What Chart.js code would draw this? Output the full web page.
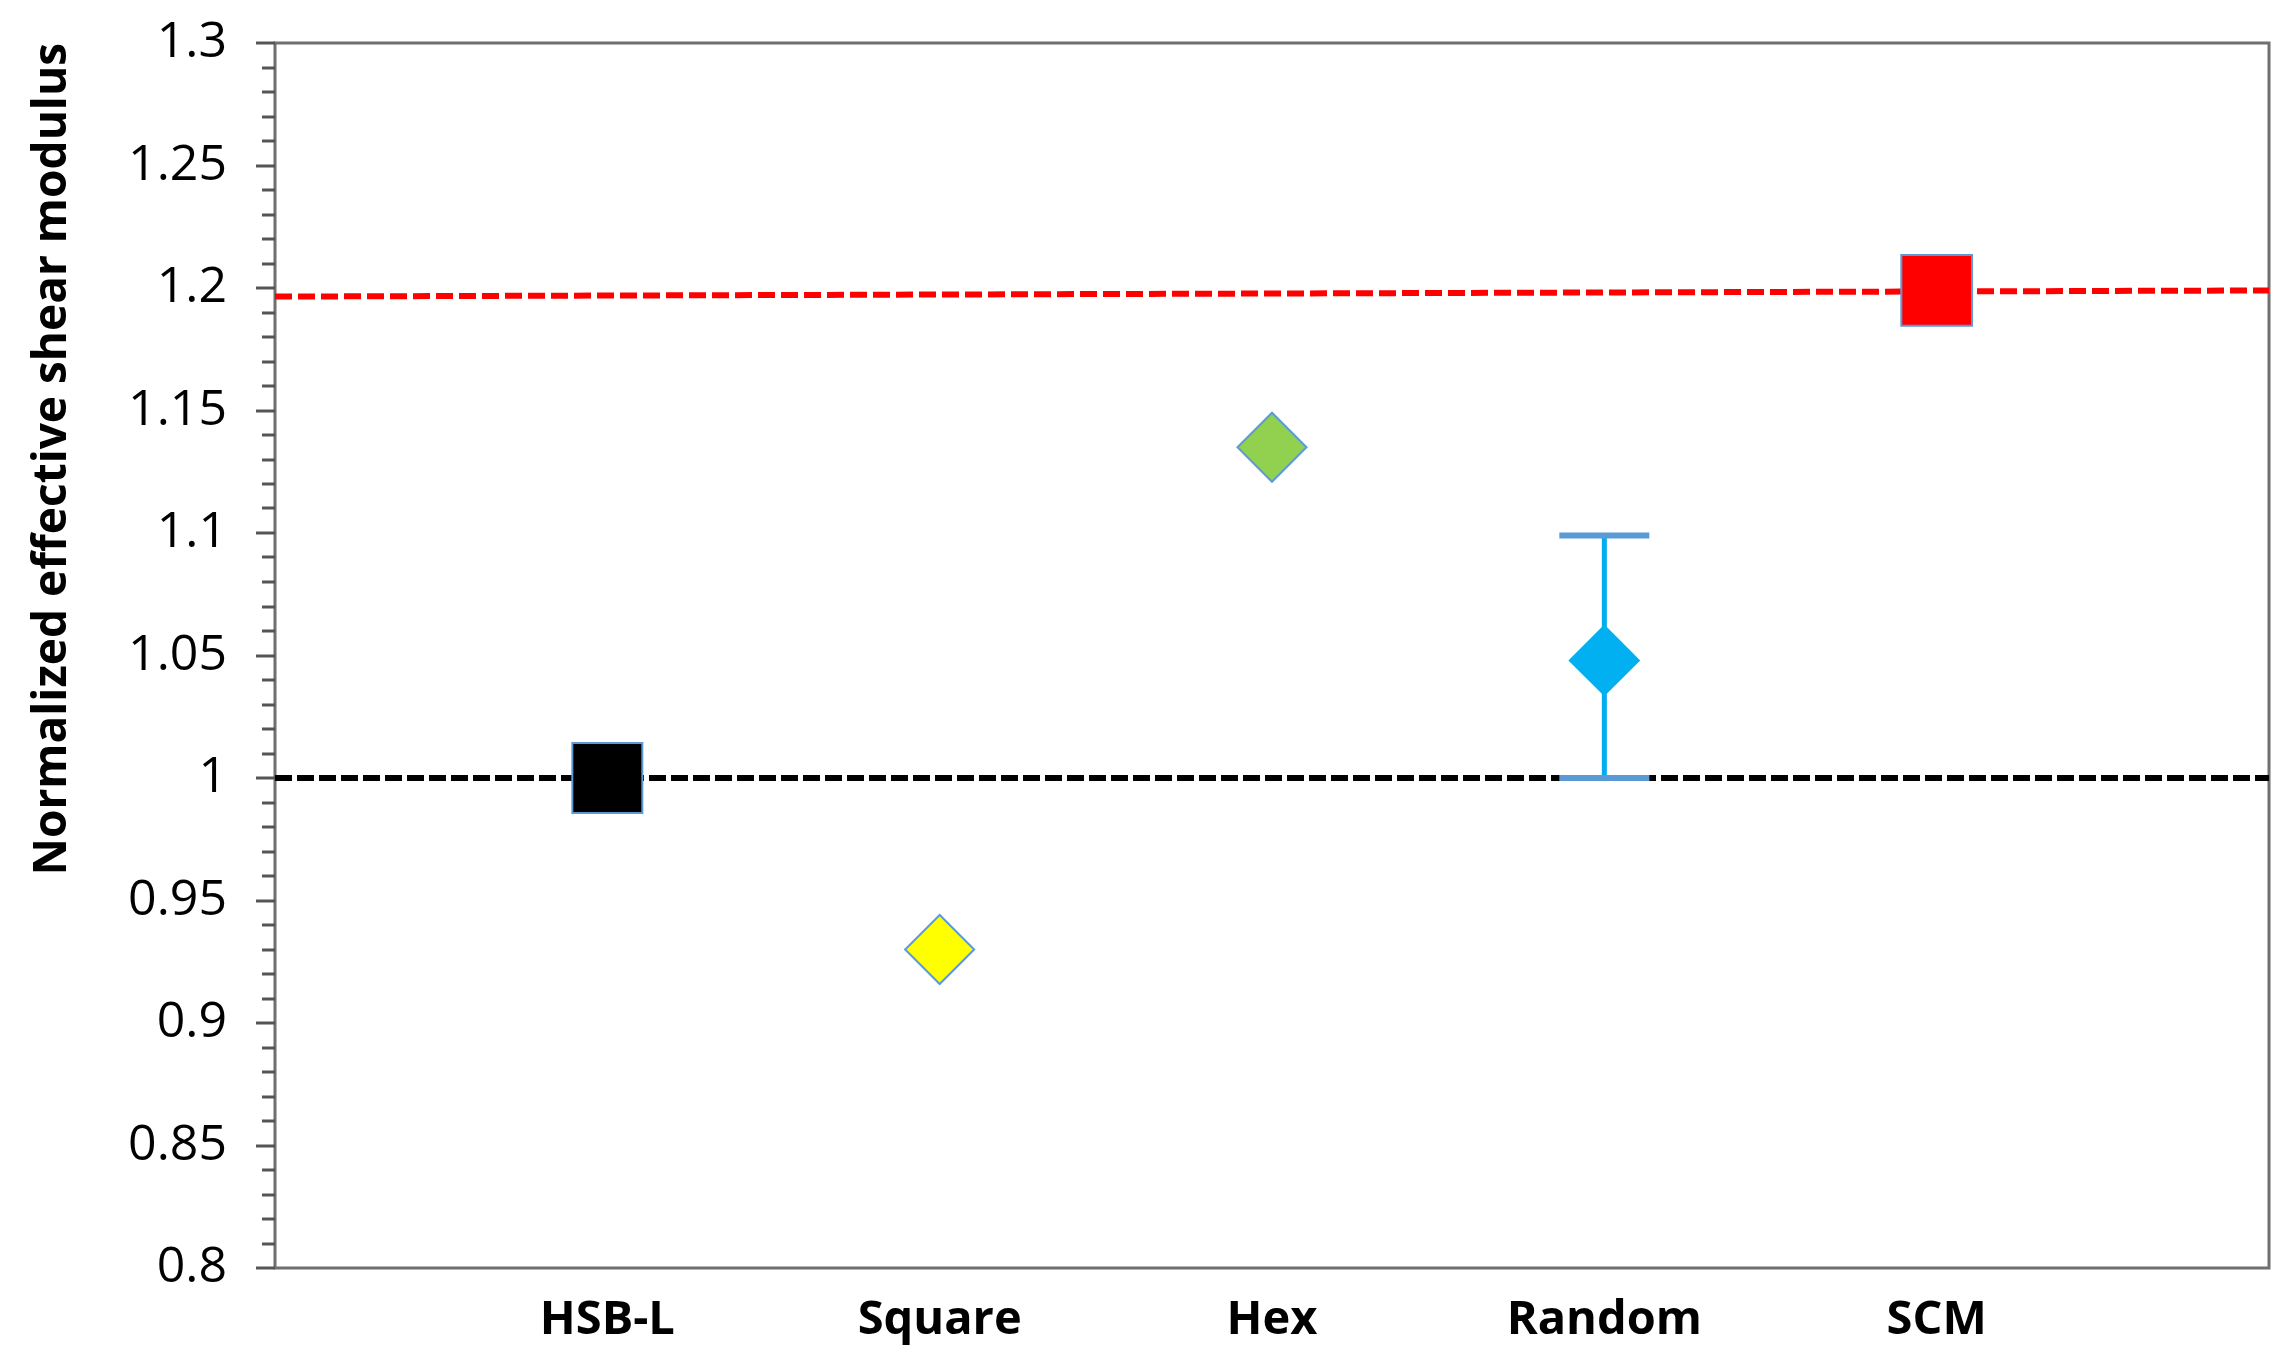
<!DOCTYPE html>
<html>
<head>
  <meta charset="utf-8">
  <title>Normalized effective shear modulus</title>
  <style>
    html, body { margin: 0; padding: 0; background: #fff; }
    #wrap { width: 2282px; height: 1361px; position: relative; }
  </style>
  <script src="https://cdn.jsdelivr.net/npm/chart.js@4.4.1/dist/chart.umd.min.js"></script>
</head>
<body>
  <div id="wrap"><canvas id="chart"></canvas></div>
  <script>
    // values
    const categories = ['HSB-L', 'Square', 'Hex', 'Random', 'SCM'];
    const categoryX = [1, 2, 3, 4, 5];
    const shearModulus = [1.0, 0.93, 1.135, 1.048, 1.199];
    const errorLow = [null, null, null, 1.0, null];
    const errorHigh = [null, null, null, 1.099, null];

    // dashed reference lines (lower bound at 1, upper bound near 1.2)
    const boundX = [0, 6];
    const lowerBound = [1.0, 1.0];
    const upperBound = [1.1965, 1.199];

    const FONT = "'Open Sans', 'Liberation Sans', sans-serif";
    const AXIS_GREY = '#6f6f6f';

    // frame round the plot area
    const framePlugin = {
      id: 'frame',
      beforeDatasetsDraw(chart) {
        const { ctx, chartArea: a } = chart;
        ctx.save();
        ctx.strokeStyle = AXIS_GREY;
        ctx.lineWidth = 3;
        ctx.strokeRect(a.left, a.top, a.right - a.left, a.bottom - a.top);
        ctx.restore();
      },
    };

    // major / minor outside ticks on the y axis
    const yTicksPlugin = {
      id: 'yTicks',
      afterDraw(chart) {
        const { ctx } = chart;
        const y = chart.scales.y;
        ctx.save();
        ctx.strokeStyle = '#555';
        ctx.lineWidth = 3;
        y.ticks.forEach(t => {
          const py = Math.round(y.getPixelForValue(t.value));
          const major = Math.abs(t.value * 20 - Math.round(t.value * 20)) < 1e-6;
          const len = major ? 19 : 13;
          ctx.beginPath();
          ctx.moveTo(y.right - len, py);
          ctx.lineTo(y.right, py);
          ctx.stroke();
        });
        ctx.restore();
      },
    };

    // error bars, drawn just before the marker dataset
    const errorBarPlugin = {
      id: 'errorBars',
      beforeDatasetDraw(chart, args) {
        if (args.index !== 0) return;
        const { ctx } = chart;
        const xs = chart.scales.x, ys = chart.scales.y;
        ctx.save();
        categoryX.forEach((cx, i) => {
          if (errorLow[i] == null) return;
          const px = xs.getPixelForValue(cx);
          const pLow = ys.getPixelForValue(errorLow[i]);
          const pHigh = ys.getPixelForValue(errorHigh[i]);
          ctx.strokeStyle = '#00AEEF';
          ctx.lineWidth = 5;
          ctx.beginPath();
          ctx.moveTo(px, pLow);
          ctx.lineTo(px, pHigh);
          ctx.stroke();
          ctx.strokeStyle = '#5B9BD5';
          ctx.lineWidth = 6;
          [pLow, pHigh].forEach(p => {
            ctx.beginPath();
            ctx.moveTo(px - 45, p);
            ctx.lineTo(px + 45, p);
            ctx.stroke();
          });
        });
        ctx.restore();
      },
    };

    new Chart(document.getElementById('chart'), {
      type: 'scatter',
      data: {
        datasets: [
          {
            label: 'Models',
            data: categoryX.map((x, i) => ({ x, y: shearModulus[i] })),
            pointStyle: ['rect', 'rectRot', 'rectRot', 'rectRot', 'rect'],
            pointRadius: [49.5, 34.5, 34.5, 34.5, 50],
            pointHoverRadius: [49.5, 34.5, 34.5, 34.5, 50],
            backgroundColor: ['#000000', '#FFFF00', '#92D050', '#00B0F0', '#FF0000'],
            borderColor: ['#5B9BD5', '#5B9BD5', '#5B9BD5', '#00B0F0', '#5B9BD5'],
            borderWidth: 2,
          },
          {
            type: 'line',
            label: 'Lower bound',
            data: boundX.map((x, i) => ({ x, y: lowerBound[i] })),
            borderColor: '#000000',
            borderWidth: 6,
            borderDash: [17, 5],
            pointRadius: 0,
          },
          {
            type: 'line',
            label: 'Upper bound',
            data: boundX.map((x, i) => ({ x, y: upperBound[i] })),
            borderColor: '#FF0000',
            borderWidth: 6,
            borderDash: [17, 6],
            pointRadius: 0,
          },
        ],
      },
      options: {
        responsive: true,
        maintainAspectRatio: false,
        animation: false,
        layout: { autoPadding: false, padding: { top: 43, right: 13, left: 0, bottom: 0 } },
        plugins: {
          legend: { display: false },
          tooltip: { enabled: false },
        },
        scales: {
          x: {
            type: 'linear',
            min: 0,
            max: 6,
            grid: { display: false, drawTicks: false },
            border: { display: false },
            afterBuildTicks: (scale) => {
              scale.ticks = categoryX.map(v => ({ value: v }));
            },
            afterFit: (scale) => {
              scale.height = 93;
              scale.paddingLeft = 0;
              scale.paddingRight = 0;
            },
            ticks: {
              autoSkip: false,
              maxRotation: 0,
              padding: 24,
              color: '#000',
              font: { family: FONT, size: 47, weight: 'bold' },
              callback: (v) => categories[categoryX.indexOf(v)] || '',
            },
          },
          y: {
            min: 0.8,
            max: 1.3,
            grid: { display: false, drawTicks: false },
            border: { display: false },
            afterFit: (scale) => {
              scale.width = 275;
              scale.paddingTop = 0;
              scale.paddingBottom = 0;
            },
            ticks: {
              stepSize: 0.01,
              autoSkip: false,
              padding: 48,
              color: '#000',
              font: { family: FONT, size: 50 },
              callback: (v) => {
                const major = Math.abs(v * 20 - Math.round(v * 20)) < 1e-6;
                return major ? String(Math.round(v * 100) / 100) : '';
              },
            },
            title: {
              display: true,
              text: 'Normalized effective shear modulus',
              align: 'end',
              color: '#000',
              padding: { top: 25, bottom: 0 },
              font: { family: FONT, size: 46, weight: 'bold' },
            },
          },
        },
      },
      plugins: [framePlugin, yTicksPlugin, errorBarPlugin],
    });
  </script>
</body>
</html>
